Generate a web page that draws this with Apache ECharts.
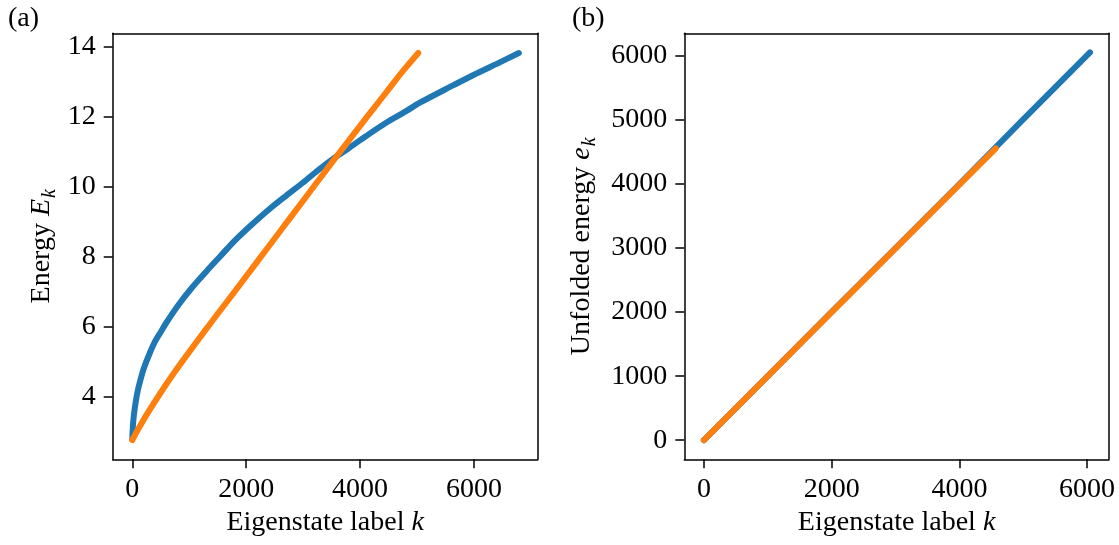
<!DOCTYPE html>
<html>
<head>
<meta charset="utf-8">
<script src="https://cdn.jsdelivr.net/npm/echarts@6/dist/echarts.min.js"></script>
<style>
html,body{margin:0;padding:0;background:#fff;}
#main{width:1119px;height:545px;}
</style>
</head>
<body>
<div id="main"></div>
<script>
// ---- Data ----
// Panel (a): Energy E_k vs eigenstate label k
const blueK_a = [0, 10, 30, 60, 100, 150, 200, 300, 400, 500, 600, 800, 1050, 1300, 1550, 1800, 2100, 2400, 2700, 3000, 3300, 3530, 3800, 4100, 4450, 4800, 5050, 5640, 6000, 6400, 6788];
const blueE_a = [2.78, 3.15, 3.50, 3.85, 4.20, 4.52, 4.80, 5.22, 5.58, 5.85, 6.12, 6.60, 7.12, 7.58, 8.02, 8.46, 8.92, 9.35, 9.74, 10.12, 10.52, 10.80, 11.10, 11.44, 11.82, 12.15, 12.40, 12.90, 13.20, 13.51, 13.82];
const orangeK_a = [0, 100, 250, 500, 750, 1000, 1250, 1500, 1750, 2000, 2250, 2500, 2750, 3000, 3250, 3500, 3750, 4000, 4250, 4500, 4750, 5022];
const orangeE_a = [2.76, 3.06, 3.48, 4.12, 4.72, 5.28, 5.83, 6.37, 6.90, 7.44, 7.98, 8.52, 9.06, 9.60, 10.14, 10.68, 11.21, 11.74, 12.26, 12.78, 13.30, 13.82];

// Panel (b): Unfolded energy e_k vs eigenstate label k
const blueK_b = [0, 1000, 2000, 3000, 4000, 5000, 6045];
const blueE_b = [0, 1000, 2005, 3000, 4000, 5010, 6055];
const orangeK_b = [0, 1000, 2000, 3000, 4000, 4570];
const orangeE_b = [0, 1000, 2000, 2995, 3990, 4558];

// Tick labels
const xTicks = [0, 2000, 4000, 6000];
const yTicks_a = [4, 6, 8, 10, 12, 14];
const yTicks_b = [0, 1000, 2000, 3000, 4000, 5000, 6000];

const BLUE = '#1f77b4', ORANGE = '#ff7f0e';
const FONT = 'Liberation Serif';
const FS = 28;

function zip(a, b) { return a.map((v, i) => [v, b[i]]); }
const fmt = v => String(v);

const richName = {
  n: { fontFamily: FONT, fontSize: FS, color: '#000', verticalAlign: 'top' },
  i: { fontFamily: FONT, fontSize: FS, color: '#000', fontStyle: 'italic', verticalAlign: 'top' },
  s: { fontFamily: FONT, fontSize: 20, color: '#000', fontStyle: 'italic', verticalAlign: 'top', padding: [12, 0, 0, 1] }
};
const AXL = { show: true, onZero: false, lineStyle: { color: '#000', width: 1.5 } };

function xAxis(gi, min, max) {
  return {
    type: 'value', gridIndex: gi, min: min, max: max, position: 'bottom',
    name: '{n|Eigenstate label }{i|k}', nameLocation: 'middle', nameGap: 45,
    nameTextStyle: { rich: richName },
    axisLine: AXL,
    axisTick: { show: true, inside: false, length: 9, lineStyle: { color: '#000', width: 1.5 }, customValues: xTicks },
    axisLabel: { customValues: xTicks, formatter: fmt, fontFamily: FONT, fontSize: FS, color: '#000', margin: 16 },
    splitLine: { show: false }
  };
}
function xFrame(gi, min, max) {
  return { type: 'value', gridIndex: gi, min: min, max: max, position: 'top',
    axisLine: AXL, axisTick: { show: false }, axisLabel: { show: false }, splitLine: { show: false } };
}
function yAxis(gi, min, max, ticks, name, gap) {
  return {
    type: 'value', gridIndex: gi, min: min, max: max, position: 'left',
    name: name, nameLocation: 'middle', nameGap: gap,
    nameTextStyle: { rich: richName },
    axisLine: AXL,
    axisTick: { show: true, inside: false, length: 9, lineStyle: { color: '#000', width: 1.5 }, customValues: ticks },
    axisLabel: { customValues: ticks, formatter: fmt, fontFamily: FONT, fontSize: FS, color: '#000', margin: 17 },
    splitLine: { show: false }
  };
}
function yFrame(gi, min, max) {
  return { type: 'value', gridIndex: gi, min: min, max: max, position: 'right',
    axisLine: AXL, axisTick: { show: false }, axisLabel: { show: false }, splitLine: { show: false } };
}
function line(xi, yi, data, color, z, smooth) {
  return {
    type: 'line', xAxisIndex: xi, yAxisIndex: yi, data: data,
    showSymbol: false, symbol: 'none', smooth: smooth, z: z,
    lineStyle: { color: color, width: 6, cap: 'round', join: 'round' },
    silent: true, animation: false
  };
}

const chart = echarts.init(document.getElementById('main'), null, { renderer: 'canvas' });
chart.setOption({
  animation: false,
  backgroundColor: '#fff',
  grid: [
    { left: 112.7, top: 33.3, width: 425, height: 426 },
    { left: 684.3, top: 33.3, width: 424.6, height: 426 }
  ],
  xAxis: [ xAxis(0, -344, 7119), xAxis(1, -307, 6341), xFrame(0, -344, 7119), xFrame(1, -307, 6341) ],
  yAxis: [
    yAxis(0, 2.211, 14.383, yTicks_a, '{n|Energy }{i|E}{s|k}', 53),
    yAxis(1, -298, 6354, yTicks_b, '{n|Unfolded energy }{i|e}{s|k}', 85),
    yFrame(0, 2.211, 14.383),
    yFrame(1, -298, 6354)
  ],
  graphic: [
    { type: 'text', left: 8, top: 5, style: { text: '(a)', fontFamily: FONT, fontSize: FS, fill: '#000' } },
    { type: 'text', left: 572, top: 5, style: { text: '(b)', fontFamily: FONT, fontSize: FS, fill: '#000' } }
  ],
  series: [
    line(0, 0, zip(blueK_a, blueE_a), BLUE, 2, 0.3),
    line(0, 0, zip(orangeK_a, orangeE_a), ORANGE, 3, 0.3),
    line(1, 1, zip(blueK_b, blueE_b), BLUE, 2, false),
    line(1, 1, zip(orangeK_b, orangeE_b), ORANGE, 3, false)
  ]
});
</script>
</body>
</html>
